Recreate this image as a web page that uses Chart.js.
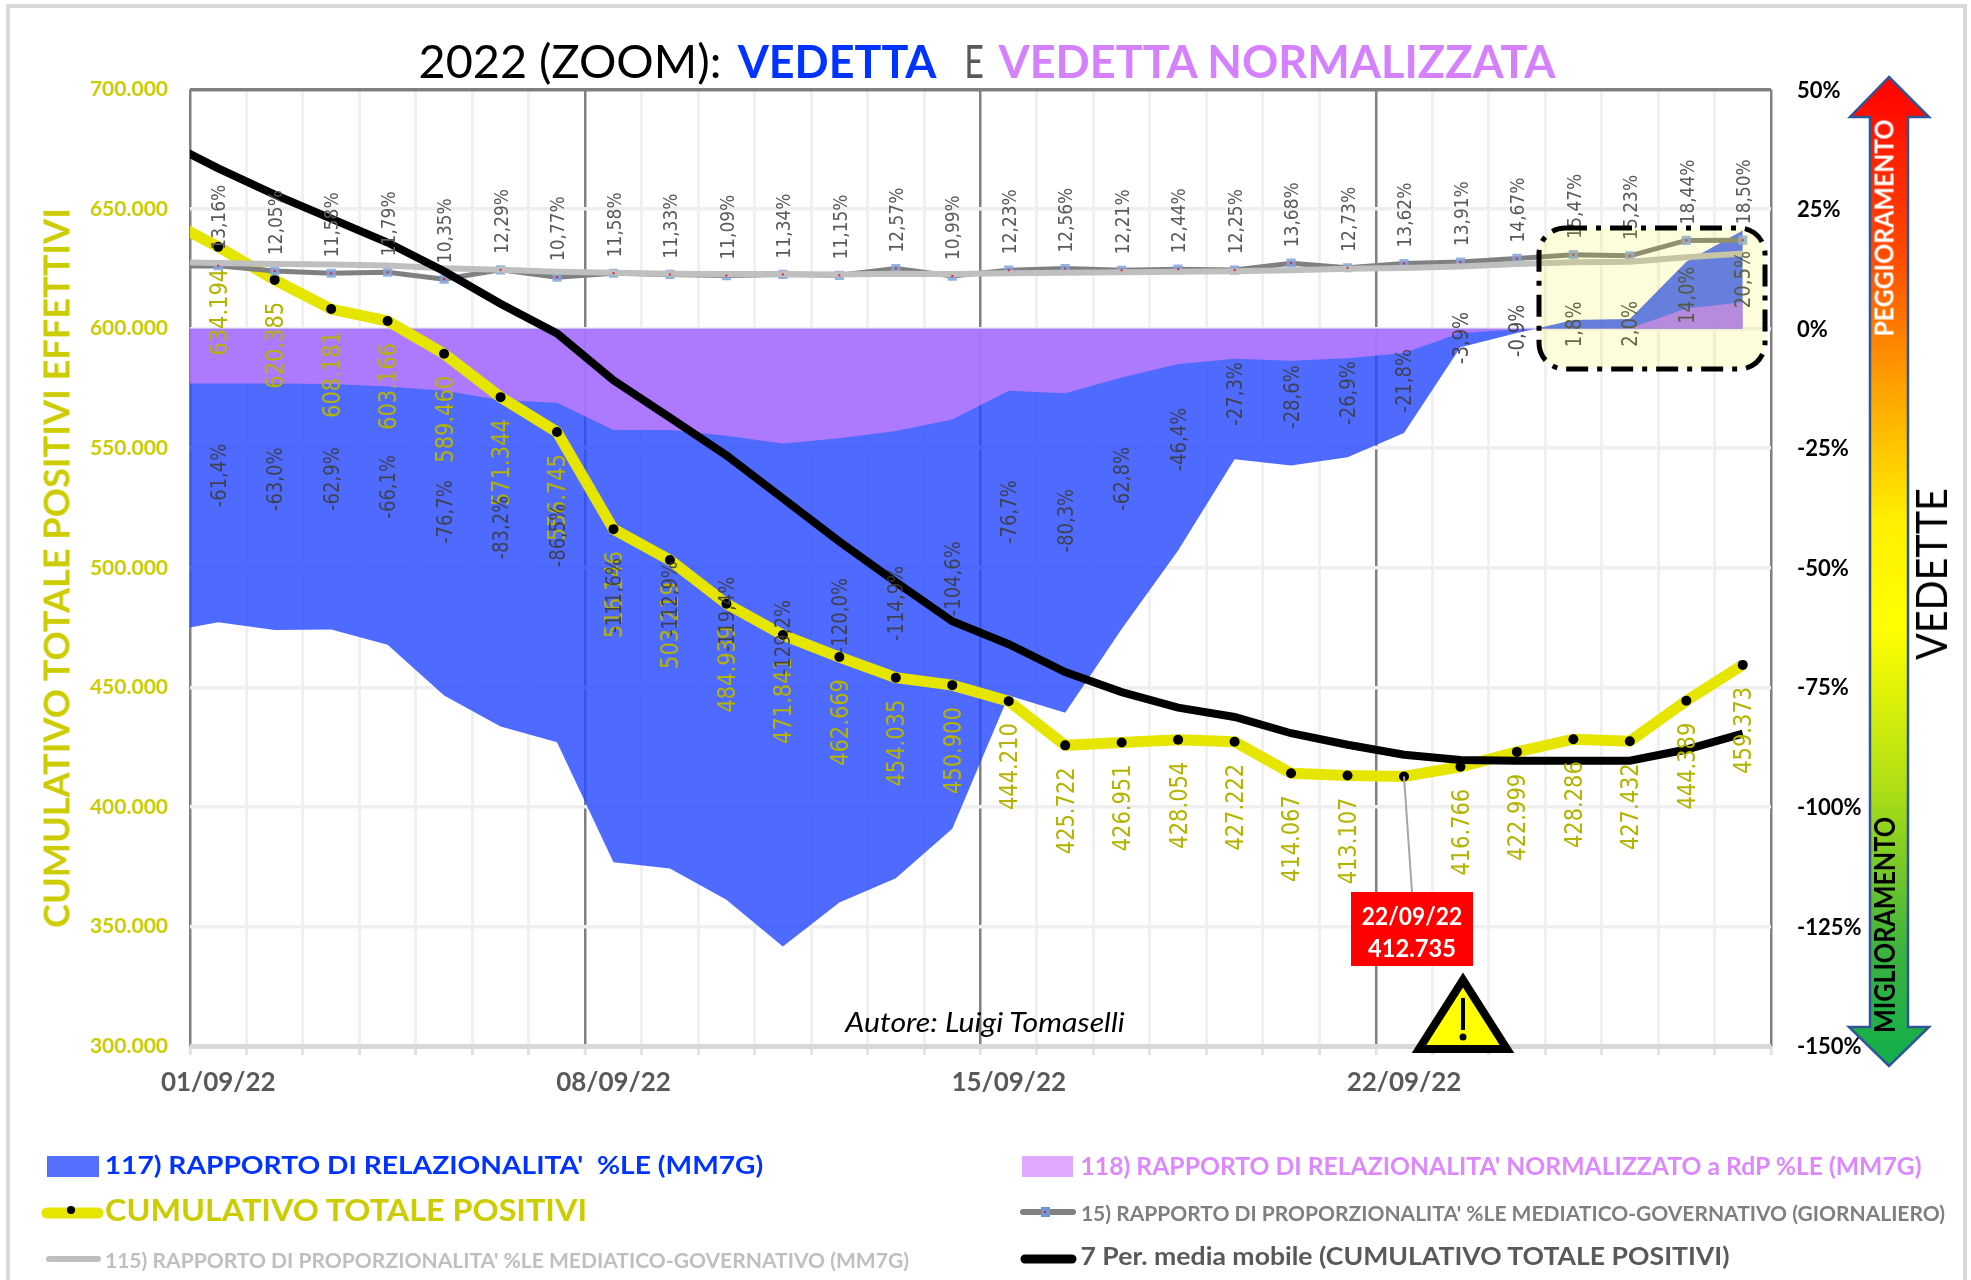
<!DOCTYPE html>
<html>
<head>
<meta charset="utf-8">
<style>
    body { margin: 0; background: #fff; }
    #wrap { position: relative; width: 1971px; height: 1280px; overflow: hidden; }
    #wrap span { position: absolute; white-space: pre; line-height: 1; }
</style>
</head>
<body>
<div id="wrap">
    <canvas id="vedetteChart" width="1971" height="1280"></canvas>
</div>
<script src="https://cdn.jsdelivr.net/npm/chart.js"></script>
<script>
// first entry (31/08) sits left of the axis, only the segment into 01/09 shows
var dates = ['31/08/22', '01/09/22', '02/09/22', '03/09/22', '04/09/22', '05/09/22', '06/09/22', '07/09/22', '08/09/22', '09/09/22',
    '10/09/22', '11/09/22', '12/09/22', '13/09/22', '14/09/22', '15/09/22', '16/09/22', '17/09/22', '18/09/22', '19/09/22',
    '20/09/22', '21/09/22', '22/09/22', '23/09/22', '24/09/22', '25/09/22', '26/09/22', '27/09/22', '28/09/22'];
var tickDates = [1, 8, 15, 22];

var cumulativo = [646600, 634194, 620385, 608181, 603166, 589460, 571344, 556745, 516146, 503219,
    484939, 471841, 462669, 454035, 450900, 444210, 425722, 426951, 428054, 427222,
    414067, 413107, 412735, 416766, 422999, 428286, 427432, 444389, 459373];
var mediaMobile = [679000, 667000, 656000, 646000, 636000, 624000, 610400, 598000, 578400, 562800,
    547000, 529000, 511000, 494000, 477600, 468000, 456400, 448000, 441500, 437600,
    430800, 426000, 421800, 419600, 419300, 419300, 419300, 424000, 430600];
var rapporto117 = [-63.6, -61.4, -63.0, -62.9, -66.1, -76.7, -83.2, -86.5, -111.6, -112.9,
    -119.4, -129.2, -120.0, -114.9, -104.6, -76.7, -80.3, -62.8, -46.4, -27.3,
    -28.6, -26.9, -21.8, -3.9, -0.9, 1.8, 2.0, 14.0, 20.5];
var rapporto118 = [-11.5, -11.5, -11.5, -11.6, -12.1, -13.0, -14.9, -15.5, -21.2, -21.2,
    -22.4, -24.0, -22.9, -21.4, -19.0, -13.0, -13.5, -10.2, -7.4, -6.3,
    -6.7, -6.2, -5.1, -0.9, -0.2, 0, 0.1, 4.2, 5.5];
var proporzione15 = [13.0, 13.16, 12.05, 11.58, 11.79, 10.35, 12.29, 10.77, 11.58, 11.33,
    11.09, 11.34, 11.15, 12.57, 10.99, 12.23, 12.56, 12.21, 12.44, 12.25,
    13.68, 12.73, 13.62, 13.91, 14.67, 15.47, 15.23, 18.44, 18.50];
var proporzione115 = [14.0, 13.7, 13.5, 13.4, 13.2, 12.6, 12.3, 11.9, 11.7, 11.5,
    11.4, 11.4, 11.3, 11.5, 11.4, 11.6, 11.7, 11.8, 11.9, 12.0,
    12.2, 12.5, 12.7, 13.0, 13.5, 13.9, 14.0, 14.9, 15.7];

function xy(values) {
    return values.map(function (v, i) { return { x: i, y: v }; });
}
function migliaia(v) {
    return String(v).replace(/\B(?=(\d{3})+$)/g, '.');
}
function virgola(v, dec) {
    return v.toFixed(dec).replace('.', ',') + '%';
}

// rotated data labels, glyphs a bit taller than the font as in the reference
function rotated(ctx, text, x, y, align) {
    ctx.save();
    ctx.translate(x, y);
    ctx.rotate(-Math.PI / 2);
    ctx.scale(1, 1.18);
    ctx.textAlign = align;
    ctx.textBaseline = 'middle';
    ctx.fillText(text, 0, 0);
    ctx.restore();
}

var dataLabels = {
    id: 'dataLabels',
    afterDatasetsDraw: function (chart) {
        var ctx = chart.ctx;
        var y1 = chart.scales.y1;
        var x = chart.scales.x;
        var i;

        ctx.font = '21px "DejaVu Sans"';
        ctx.fillStyle = '#B4B400';
        var yellow = chart.getDatasetMeta(2).data;
        for (i = 1; i < dates.length; i++) {
            if (i === 22) continue;   // this one is in the red box
            rotated(ctx, migliaia(cumulativo[i]), x.getPixelForValue(i) + 2, yellow[i].y + 22, 'right');
        }

        ctx.font = '18px "DejaVu Sans"';
        ctx.fillStyle = 'rgba(60,60,60,0.9)';
        for (i = 1; i < dates.length; i++) {
            rotated(ctx, virgola(rapporto117[i], 1), x.getPixelForValue(i) + 2, y1.getPixelForValue(rapporto117[i] / 2), 'center');
        }

        var daily = chart.getDatasetMeta(3).data;
        ctx.font = '17px "DejaVu Sans"';
        ctx.fillStyle = '#595959';
        for (i = 1; i < dates.length; i++) {
            rotated(ctx, virgola(proporzione15[i], 2), x.getPixelForValue(i) + 2, daily[i].y - 16, 'left');
            ctx.save();
            ctx.fillStyle = '#E0203A';
            ctx.fillRect(daily[i].x - 1, daily[i].y - 1, 2, 2);
            ctx.restore();
        }
    }
};

// highlight box, arrow, warning sign, red note and legend keys
var overlay = {
    id: 'overlay',
    afterDraw: function (chart) {
        var ctx = chart.ctx;
        ctx.save();

        // page frame
        ctx.strokeStyle = '#D9D9D9';
        ctx.lineWidth = 4;
        ctx.beginPath();
        ctx.moveTo(8, 1280);
        ctx.lineTo(8, 6);
        ctx.lineTo(1965, 6);
        ctx.lineTo(1965, 1280);
        ctx.stroke();

        // yellow box on the positive part
        ctx.beginPath();
        ctx.roundRect(1539, 228, 226, 141, 26);
        ctx.fillStyle = 'rgba(240,240,10,0.14)';
        ctx.fill();
        ctx.setLineDash([22, 9, 5, 9]);
        ctx.lineWidth = 5;
        ctx.strokeStyle = '#000';
        ctx.stroke();
        ctx.setLineDash([]);

        // leader from the 22/09 point
        ctx.strokeStyle = '#A6A6A6';
        ctx.lineWidth = 2;
        ctx.beginPath();
        ctx.moveTo(chart.scales.x.getPixelForValue(22), chart.scales.y.getPixelForValue(cumulativo[22]));
        ctx.lineTo(1412, 892);
        ctx.stroke();
        ctx.fillStyle = '#FF0000';
        ctx.fillRect(1351, 892, 122, 74);

        // warning sign
        ctx.beginPath();
        ctx.moveTo(1463, 980);
        ctx.lineTo(1419, 1049);
        ctx.lineTo(1507, 1049);
        ctx.closePath();
        ctx.fillStyle = '#FFFF00';
        ctx.fill();
        ctx.strokeStyle = '#000';
        ctx.lineWidth = 8;
        ctx.lineJoin = 'miter';
        ctx.stroke();
        ctx.fillStyle = '#000';
        ctx.fillRect(1461, 998, 4, 32);
        ctx.beginPath();
        ctx.arc(1463, 1037, 3.5, 0, Math.PI * 2);
        ctx.fill();

        // big arrow
        var grad = ctx.createLinearGradient(0, 77, 0, 1066);
        grad.addColorStop(0, '#FF0000');
        grad.addColorStop(0.18, '#FF4A00');
        grad.addColorStop(0.3, '#FF9A00');
        grad.addColorStop(0.45, '#FFF000');
        grad.addColorStop(0.56, '#FFFF00');
        grad.addColorStop(0.72, '#AEDE14');
        grad.addColorStop(0.88, '#3EB33F');
        grad.addColorStop(1, '#10AF4B');
        ctx.beginPath();
        ctx.moveTo(1889, 77);
        ctx.lineTo(1929, 117);
        ctx.lineTo(1908, 117);
        ctx.lineTo(1908, 1027);
        ctx.lineTo(1929, 1027);
        ctx.lineTo(1889, 1066);
        ctx.lineTo(1849, 1027);
        ctx.lineTo(1870, 1027);
        ctx.lineTo(1870, 117);
        ctx.lineTo(1850, 117);
        ctx.closePath();
        ctx.fillStyle = grad;
        ctx.fill();
        ctx.strokeStyle = '#2F5597';
        ctx.lineWidth = 2.5;
        ctx.stroke();

        // legend keys
        ctx.fillStyle = '#5570FF';
        ctx.fillRect(47, 1156, 52, 21);
        ctx.fillStyle = '#E0A8FF';
        ctx.fillRect(1022, 1156, 51, 21);
        function key(x0, x1, y, color, w) {
            ctx.beginPath();
            ctx.moveTo(x0, y);
            ctx.lineTo(x1, y);
            ctx.strokeStyle = color;
            ctx.lineWidth = w;
            ctx.lineCap = 'round';
            ctx.stroke();
        }
        key(47, 98, 1213, '#E5E500', 11);
        key(49, 98, 1259, '#BFBFBF', 6);
        key(1023, 1073, 1212, '#808080', 6);
        key(1025, 1072, 1259, '#000000', 9);
        ctx.fillStyle = '#000';
        ctx.beginPath();
        ctx.arc(71, 1210, 4, 0, Math.PI * 2);
        ctx.fill();
        ctx.fillStyle = '#6E96D2';
        ctx.fillRect(1041, 1207, 9, 10);
        ctx.fillStyle = '#E0203A';
        ctx.fillRect(1044, 1211, 2, 2);

        ctx.restore();
    }
};

var chart = new Chart(document.getElementById('vedetteChart').getContext('2d'), {
    data: {
        datasets: [
            { type: 'line', label: "118) RAPPORTO DI RELAZIONALITA' NORMALIZZATO a RdP %LE (MM7G)", data: xy(rapporto118), yAxisID: 'y1',
                backgroundColor: 'rgba(204,127,255,0.75)', fill: { value: 0 }, borderWidth: 0, pointRadius: 0, order: 5 },
            { type: 'line', label: "117) RAPPORTO DI RELAZIONALITA'  %LE (MM7G)", data: xy(rapporto117), yAxisID: 'y1',
                backgroundColor: 'rgba(40,75,255,0.82)', fill: { value: 0 }, borderWidth: 0, pointRadius: 0, order: 6 },
            { type: 'line', label: 'CUMULATIVO TOTALE POSITIVI', data: xy(cumulativo), yAxisID: 'y',
                borderColor: '#E5E500', borderWidth: 11, pointRadius: 5, pointBackgroundColor: '#000', pointBorderWidth: 0, order: 4 },
            { type: 'line', label: "15) RAPPORTO DI PROPORZIONALITA' %LE MEDIATICO-GOVERNATIVO (GIORNALIERO)", data: xy(proporzione15), yAxisID: 'y1',
                borderColor: '#808080', borderWidth: 5, pointStyle: 'rect', pointRadius: 6.5, pointBackgroundColor: 'rgba(130,165,220,0.85)', pointBorderWidth: 0, order: 3 },
            { type: 'line', label: "115) RAPPORTO DI PROPORZIONALITA' %LE MEDIATICO-GOVERNATIVO (MM7G)", data: xy(proporzione115), yAxisID: 'y1',
                borderColor: '#BFBFBF', borderWidth: 6, pointRadius: 0, order: 2 },
            { type: 'line', label: '7 Per. media mobile (CUMULATIVO TOTALE POSITIVI)', data: xy(mediaMobile), yAxisID: 'y',
                borderColor: '#000', borderWidth: 8, pointRadius: 0, order: 1 }
        ]
    },
    options: {
        responsive: false,
        animation: false,
        devicePixelRatio: 1,
        layout: { padding: { top: 89.5 } },
        plugins: { legend: { display: false }, tooltip: { enabled: false } },
        scales: {
            x: {
                type: 'linear', position: 'bottom', min: 0.5, max: 28.5,
                afterBuildTicks: function (axis) {
                    var t = [];
                    for (var i = 0; i <= 28; i++) t.push({ value: i + 0.5 });
                    axis.ticks = t;
                },
                afterFit: function (axis) { axis.height = 9; },
                ticks: { display: false, autoSkip: false },
                border: { display: false },
                grid: {
                    color: function (c) { return (c.tick.value - 0.5) % 7 === 0 || c.tick.value === 28.5 ? '#808080' : '#F0F0F0'; },
                    lineWidth: function (c) { return (c.tick.value - 0.5) % 7 === 0 || c.tick.value === 28.5 ? 2.5 : 3; },
                    tickColor: '#E2E2E2', tickWidth: 3, tickLength: 9
                }
            },
            x2: {
                type: 'linear', position: 'bottom', min: 0.5, max: 28.5,
                afterBuildTicks: function (axis) {
                    axis.ticks = tickDates.map(function (d) { return { value: d }; });
                },
                afterFit: function (axis) { axis.height = 225; },
                ticks: {
                    autoSkip: false, maxRotation: 0, padding: 12, color: '#595959',
                    font: { family: 'Lato', size: 26, weight: 'bold' },
                    callback: function (v) { return dates[v]; }
                },
                border: { display: false },
                grid: { display: false, drawTicks: false }
            },
            y: {
                position: 'left', min: 300000, max: 700000,
                afterFit: function (axis) { axis.width = 190; },
                ticks: {
                    stepSize: 50000, padding: 22, color: '#CCCC00',
                    font: { family: 'Lato', size: 21, weight: 'bold' },
                    callback: function (v) { return migliaia(v); }
                },
                border: { display: false },
                grid: {
                    drawTicks: false,
                    color: function (c) { return c.tick.value === 700000 ? '#808080' : c.tick.value === 300000 ? '#D9D9D9' : '#EFEFEF'; },
                    lineWidth: function (c) { return c.tick.value === 300000 ? 5 : 3.5; }
                }
            },
            y1: {
                position: 'right', min: -150, max: 50,
                afterFit: function (axis) { axis.width = 200; },
                ticks: {
                    stepSize: 25, padding: 26, color: '#000', labelOffset: 1,
                    font: { family: 'Lato', size: 22, weight: 'bold' },
                    callback: function (v) { return v + '%'; }
                },
                border: { display: false },
                grid: { display: false, drawTicks: false }
            }
        }
    },
    plugins: [dataLabels, overlay]
});

// text outside the plot, placed by centre and stretched to the wanted width
function put(text, cx, cy, w, font, color, rot) {
    var s = document.createElement('span');
    s.textContent = text;
    s.style.font = font;
    s.style.lineHeight = '1';
    s.style.color = color;
    s.style.left = cx + 'px';
    s.style.top = cy + 'px';
    document.getElementById('wrap').appendChild(s);
    var k = w / s.offsetWidth;
    s.style.transform = 'translate(-50%,-50%)' + (rot ? ' rotate(-90deg)' : '') + ' scaleX(' + k + ')';
}

put('2022 (ZOOM):', 570, 61, 303, '46px Lato', '#000');
put('VEDETTA', 837, 61, 199, 'bold 46px Lato', '#0033FF');
put('E', 974, 61, 20, '46px Lato', '#595959');
put('VEDETTA NORMALIZZATA', 1277, 61, 557, 'bold 46px Lato', '#D580FF');

put('CUMULATIVO TOTALE POSITIVI EFFETTIVI', 55, 568, 720, 'bold 37px Lato', '#CCCC00', true);
put('VEDETTE', 1931, 574, 172, '42px Lato', '#000', true);
put('PEGGIORAMENTO', 1883, 228, 217, 'bold 27px Lato', '#fff', true);
put('MIGLIORAMENTO', 1884, 925, 216, 'bold 28px Lato', '#000', true);

put('Autore: Luigi Tomaselli', 985, 1021, 279, 'italic 27px Lato', '#000');
put('22/09/22', 1412, 915, 100, 'bold 25px Lato', '#fff');
put('412.735', 1412, 947, 88, 'bold 25px Lato', '#fff');

put("117) RAPPORTO DI RELAZIONALITA'  %LE (MM7G)", 434, 1164, 658, 'bold 25px Lato', '#0033FF');
put('CUMULATIVO TOTALE POSITIVI', 346, 1209, 482, 'bold 31px Lato', '#CCCC00');
put("115) RAPPORTO DI PROPORZIONALITA' %LE MEDIATICO-GOVERNATIVO (MM7G)", 507, 1259, 804, 'bold 21px Lato', '#BFBFBF');
put("118) RAPPORTO DI RELAZIONALITA' NORMALIZZATO a RdP %LE (MM7G)", 1501, 1165, 841, 'bold 25px Lato', '#DD88FF');
put("15) RAPPORTO DI PROPORZIONALITA' %LE MEDIATICO-GOVERNATIVO (GIORNALIERO)", 1513, 1212, 864, 'bold 21px Lato', '#7F7F7F');
put('7 Per. media mobile (CUMULATIVO TOTALE POSITIVI)', 1405, 1255, 649, 'bold 25px Lato', '#595959');
</script>
</body>
</html>
